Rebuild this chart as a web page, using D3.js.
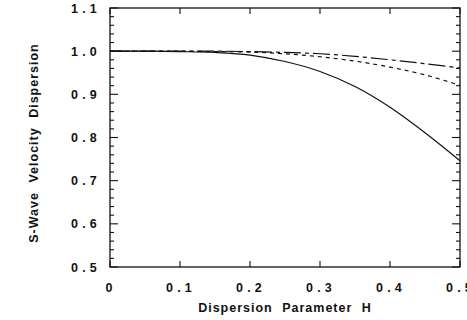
<!DOCTYPE html>
<html><head><meta charset="utf-8">
<script src="https://cdn.jsdelivr.net/npm/d3@7"></script>
<style>
body{margin:0;background:#fff;}
text{font-family:"Liberation Sans",Arial,Helvetica,sans-serif;font-weight:bold;fill:#111;}
</style></head>
<body><svg id="c" width="467" height="320"></svg>
<script>
const H = [0, 0.05, 0.1, 0.15, 0.2, 0.25, 0.3, 0.35, 0.4, 0.45, 0.5];
const solid   = [1.0, 1.0, 0.999, 0.997, 0.991, 0.976, 0.953, 0.918, 0.870, 0.811, 0.746];
const dashed  = [1.0, 1.0, 1.0, 0.999, 0.998, 0.994, 0.987, 0.977, 0.963, 0.945, 0.921];
const dashDot = [1.0, 1.0, 1.0, 1.0, 0.999, 0.997, 0.994, 0.988, 0.980, 0.971, 0.961];
const xTicks = [0, 0.1, 0.2, 0.3, 0.4, 0.5];
const xTickLabels = ["0", "0.1", "0.2", "0.3", "0.4", "0.5"];
const yTicks = [0.5, 0.6, 0.7, 0.8, 0.9, 1.0, 1.1];
const yTickLabels = ["0.5", "0.6", "0.7", "0.8", "0.9", "1.0", "1.1"];
const xTitle = "Dispersion Parameter H";
const yTitle = "S-Wave Velocity Dispersion";

const svg = d3.select("#c");
const L = 110, R = 460, T = 8, B = 267;
const x = d3.scaleLinear().domain([0, 0.5]).range([L, R]);
const y = d3.scaleLinear().domain([0.5, 1.1]).range([B, T]);

const fs = "12.5px";
svg.append("rect").attr("x", L).attr("y", T).attr("width", R - L).attr("height", B - T)
  .attr("fill", "none").attr("stroke", "#111").attr("stroke-width", 1.3);

const yMinor = d3.range(0, 31).map(i => 0.5 + i * 0.02);
const g = svg.append("g").attr("stroke", "#111").attr("stroke-width", 1.1);
yMinor.forEach(v => {
  const major = Math.abs(Math.round(v * 10) - v * 10) < 1e-6;
  const len = major ? 8 : 4;
  g.append("line").attr("x1", L).attr("x2", L + len).attr("y1", y(v)).attr("y2", y(v));
  g.append("line").attr("x1", R).attr("x2", R - len).attr("y1", y(v)).attr("y2", y(v));
});
xTicks.forEach(v => {
  g.append("line").attr("x1", x(v)).attr("x2", x(v)).attr("y1", B).attr("y2", B - 6);
  g.append("line").attr("x1", x(v)).attr("x2", x(v)).attr("y1", T).attr("y2", T + 6);
});

svg.append("g").selectAll("text").data(yTicks).join("text")
  .attr("x", 101).attr("y", d => y(d)).attr("dy", "0.36em")
  .attr("text-anchor", "end").style("font-size", fs).style("letter-spacing", "4.2px")
  .text((d, i) => yTickLabels[i]);
svg.append("g").selectAll("text").data(xTicks).join("text")
  .attr("x", d => x(d) + 1).attr("y", 292)
  .attr("text-anchor", "middle").style("font-size", fs).style("letter-spacing", "4.2px")
  .text((d, i) => xTickLabels[i]);

svg.append("text").attr("x", 285).attr("y", 312).attr("text-anchor", "middle")
  .style("font-size", fs).style("letter-spacing", "1px").style("word-spacing", "5px").text(xTitle);
svg.append("text").attr("transform", "translate(38,143) rotate(-90)").attr("text-anchor", "middle")
  .style("font-size", fs).style("letter-spacing", "1px").style("word-spacing", "5px").text(yTitle);

const line = d3.line().x(d => x(d[0])).y(d => y(d[1])).curve(d3.curveCatmullRom.alpha(0.5));
const series = [
  {v: solid, dash: null},
  {v: dashed, dash: "4,4"},
  {v: dashDot, dash: "17,4,4,4"}
];
series.forEach(s => {
  svg.append("path").datum(H.map((h, i) => [h, s.v[i]]))
    .attr("d", line).attr("fill", "none").attr("stroke", "#111").attr("stroke-width", 1.2)
    .attr("stroke-dasharray", s.dash);
});
</script></body></html>
